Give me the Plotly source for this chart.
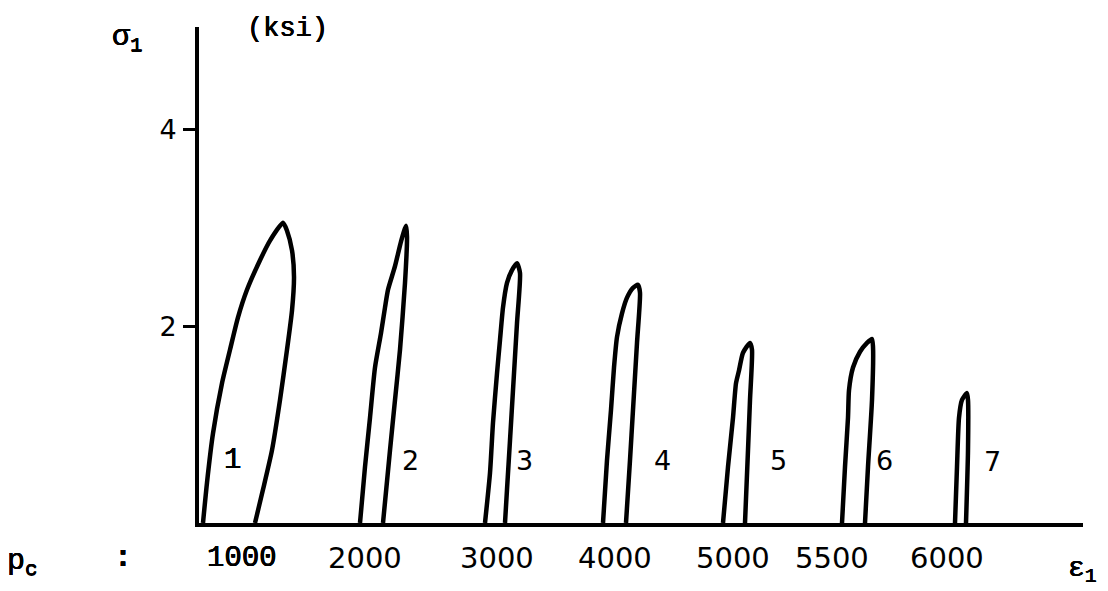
import plotly.graph_objects as go

# ---- data (strain in arbitrary units, stress in ksi) ----
loop_names = ["1", "2", "3", "4", "5", "6", "7"]

loop1_x = [0.04, 0.08, 0.14, 0.23, 0.31, 0.39, 0.48, 0.61, 0.71, 0.84,
           0.88, 0.93, 0.95, 0.93, 0.88, 0.81, 0.73, 0.64, 0.56]
loop1_y = [0.00, 0.41, 0.91, 1.42, 1.76, 2.09, 2.37, 2.67, 2.87, 3.05,
           2.97, 2.77, 2.50, 2.16, 1.76, 1.25, 0.74, 0.34, 0.00]

loop2_x = [1.61, 1.66, 1.71, 1.76, 1.82, 1.86, 1.89, 1.96, 2.02, 2.07,
           2.08, 2.06, 2.01, 1.96, 1.91, 1.84]
loop2_y = [0.00, 0.57, 1.07, 1.58, 1.93, 2.19, 2.37, 2.61, 2.86, 3.02,
           2.91, 2.44, 1.76, 1.25, 0.74, 0.00]

loop3_x = [2.86, 2.91, 2.94, 2.98, 3.01, 3.04, 3.08, 3.13, 3.18,
           3.21, 3.18, 3.14, 3.11, 3.08, 3.06]
loop3_y = [0.00, 0.51, 1.02, 1.52, 1.86, 2.19, 2.44, 2.57, 2.64,
           2.54, 2.03, 1.35, 0.84, 0.34, 0.00]

loop4_x = [4.04, 4.08, 4.12, 4.15, 4.18, 4.23, 4.28, 4.34, 4.39,
           4.41, 4.38, 4.34, 4.31, 4.27]
loop4_y = [0.00, 0.64, 1.15, 1.58, 1.89, 2.13, 2.29, 2.39, 2.42,
           2.34, 1.83, 1.15, 0.64, 0.00]

loop5_x = [5.24, 5.29, 5.34, 5.37, 5.40, 5.44, 5.51, 5.53, 5.51, 5.49, 5.46]
loop5_y = [0.00, 0.57, 1.07, 1.42, 1.55, 1.73, 1.83, 1.76, 1.25, 0.74, 0.00]

loop6_x = [6.43, 6.46, 6.49, 6.50, 6.54, 6.61, 6.68, 6.73, 6.74, 6.73, 6.69, 6.66]
loop6_y = [0.00, 0.57, 1.07, 1.35, 1.58, 1.74, 1.83, 1.87, 1.79, 1.25, 0.57, 0.00]

loop7_x = [7.56, 7.58, 7.60, 7.63, 7.68, 7.69, 7.69, 7.67]
loop7_y = [0.00, 0.57, 1.07, 1.25, 1.32, 1.25, 0.74, 0.00]

# loop number labels (position next to each loop)
label_x = [0.33, 2.11, 3.25, 4.63, 5.79, 6.85, 7.93]
label_y = [0.64, 0.64, 0.64, 0.64, 0.64, 0.64, 0.62]

# confining pressure labels under the loops
pc_labels = ["1000", "2000", "3000", "4000", "5000", "5500", "6000"]
pc_x = [0.43, 1.66, 2.98, 4.16, 5.34, 6.33, 7.48]

y_ticks = [2, 4]
y_ticktext = ["2", "4"]

loops_x = [loop1_x, loop2_x, loop3_x, loop4_x, loop5_x, loop6_x, loop7_x]
loops_y = [loop1_y, loop2_y, loop3_y, loop4_y, loop5_y, loop6_y, loop7_y]

MONO = "Liberation Mono"
SANS = "DejaVu Sans"
# slight thickening of the thin typewriter face
HEAVY = "0.35px 0 0 black, -0.35px 0 0 black, 0 0.3px 0 black"

fig = go.Figure()
for name, xs, ys in zip(loop_names, loops_x, loops_y):
    fig.add_trace(go.Scatter(
        x=xs, y=ys, mode="lines", name="loop " + name,
        line=dict(color="black", width=4.5, shape="spline", smoothing=0.6),
        showlegend=False, hoverinfo="skip"))

# plot area (page pixels): x 199..1083, y 27..523; page body has an 8px margin
PLOT_L, PLOT_R, PLOT_T, PLOT_B = 199, 1083, 27, 523
PW, PH = PLOT_R - PLOT_L, PLOT_B - PLOT_T


def px(xp):
    return (xp - PLOT_L) / PW


def py(yp):
    return (PLOT_B - yp) / PH


def mono(size, bold=False):
    return dict(family=MONO, size=size, color="black", shadow=HEAVY,
                weight="bold" if bold else "normal")


annotations = []
for t, x, y in zip(loop_names, label_x, label_y):
    f = mono(29) if t == "1" else dict(family=SANS, size=27, color="black")
    annotations.append(dict(x=x, y=y, xref="x", yref="y", text=t, showarrow=False,
                            font=f, xanchor="center", yanchor="middle"))
for t, x in zip(pc_labels, pc_x):
    f = mono(29) if t == "1000" else dict(family=SANS, size=29, color="black")
    annotations.append(dict(x=x, y=py(558), xref="x", yref="paper", text=t,
                            showarrow=False, font=f,
                            xanchor="center", yanchor="middle"))

annotations += [
    dict(x=px(5), y=py(562), xref="paper", yref="paper", text="p<sub>c</sub>",
         showarrow=False, xanchor="left", yanchor="middle", font=mono(30)),
    dict(x=px(123), y=py(558), xref="paper", yref="paper", text=":",
         showarrow=False, xanchor="center", yanchor="middle", font=mono(30, True)),
    dict(x=px(110), y=py(38), xref="paper", yref="paper", text="σ<sub>1</sub>",
         showarrow=False, xanchor="left", yanchor="middle", font=mono(30)),
    dict(x=px(287), y=py(29), xref="paper", yref="paper", text="(ksi)",
         showarrow=False, xanchor="center", yanchor="middle", font=mono(27)),
    dict(x=px(1066), y=py(570), xref="paper", yref="paper", text="ε<sub>1</sub>",
         showarrow=False, xanchor="left", yanchor="middle", font=mono(28)),
]

OFF = 8  # default body margin of the page
FIG_W, FIG_H = 1108 - OFF, 591 - OFF

fig.update_layout(
    width=FIG_W, height=FIG_H,
    margin=dict(l=PLOT_L - OFF, r=FIG_W + OFF - PLOT_R, t=PLOT_T - OFF,
                b=FIG_H + OFF - PLOT_B, pad=0),
    paper_bgcolor="white", plot_bgcolor="white",
    annotations=annotations,
    xaxis=dict(range=[0, 8.84], showgrid=False, zeroline=False, showline=True,
               linecolor="black", linewidth=4, showticklabels=False, ticks=""),
    yaxis=dict(range=[0, 5.04], showgrid=False, zeroline=False, showline=True,
               linecolor="black", linewidth=4, tickvals=y_ticks, ticktext=y_ticktext,
               ticks="outside", ticklen=12, tickwidth=3, tickcolor="black",
               ticklabelstandoff=1,
               tickfont=dict(family=SANS, size=27, color="black")),
)

fig.write_html("out.html")
